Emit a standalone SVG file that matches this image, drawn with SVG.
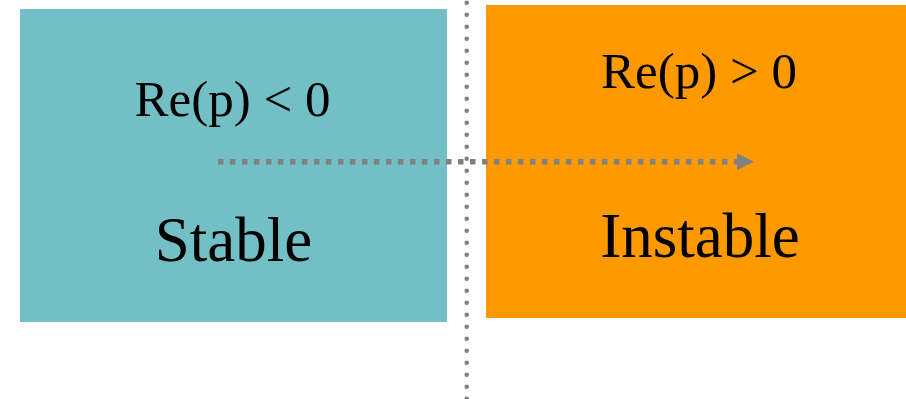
<svg xmlns="http://www.w3.org/2000/svg" width="906" height="399" viewBox="0 0 906 399">
<style>
.lbl{font-family:"Liberation Serif","Times New Roman",serif;fill:#000;text-anchor:middle}
.cond{font-size:51px}
.name{font-size:63px}
</style>
<defs>
<marker id="ah" markerWidth="17" markerHeight="17" refX="0" refY="8.5" orient="auto" markerUnits="userSpaceOnUse">
<path d="M0,0 L17,8.5 L0,17 Z" fill="#808080"/>
</marker>
</defs>
<rect width="906" height="399" fill="#fff"/>
<g id="stable">
<rect x="20" y="9" width="427" height="313" fill="#72BFC5"/>
<text class="lbl cond" x="232.5" y="115.7">Re(p) &lt; 0</text>
<text class="lbl name" x="233.5" y="261">Stable</text>
</g>
<g id="instable">
<rect x="486" y="5" width="420" height="313" fill="#FE9900"/>
<text class="lbl cond" x="699" y="87.7">Re(p) &gt; 0</text>
<text class="lbl name" x="700" y="256.7">Instable</text>
</g>
<g id="connectors">
<line x1="466.7" y1="2.7" x2="466.7" y2="399" stroke="#808080" stroke-width="4.6" stroke-linecap="round" stroke-dasharray="0 12"/>
<line x1="218" y1="161.7" x2="737" y2="161.7" stroke="#808080" stroke-width="5.5" stroke-dasharray="5.5 6.5" marker-end="url(#ah)"/>
</g>
</svg>
